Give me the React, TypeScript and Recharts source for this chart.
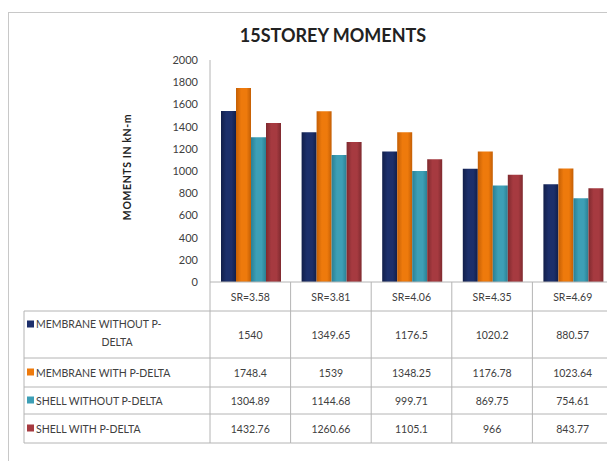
import React from "react";
import { BarChart, Bar, XAxis, YAxis } from "recharts";

// slenderness ratio categories
const categories = ["SR=3.58", "SR=3.81", "SR=4.06", "SR=4.35", "SR=4.69"];

const membraneWithout = [1540, 1349.65, 1176.5, 1020.2, 880.57];
const membraneWith = [1748.4, 1539, 1348.25, 1176.78, 1023.64];
const shellWithout = [1304.89, 1144.68, 999.71, 869.75, 754.61];
const shellWith = [1432.76, 1260.66, 1105.1, 966, 843.77];

const seriesNames = [
  "MEMBRANE WITHOUT P-DELTA",
  "MEMBRANE WITH P-DELTA",
  "SHELL WITHOUT P-DELTA",
  "SHELL WITH P-DELTA",
];
const yTicks = [0, 200, 400, 600, 800, 1000, 1200, 1400, 1600, 1800, 2000];

const colors = ["#1c2f6b", "#ee7a0c", "#3d9fb6", "#a63a40"];
const edgeColors = ["#121f4a", "#c45f05", "#2b7f93", "#7f2a2f"];
const keys = ["mw", "mp", "sw", "sp"];
const seriesValues = [membraneWithout, membraneWith, shellWithout, shellWith];

const data = categories.map((c, i) => ({
  name: c,
  mw: membraneWithout[i],
  mp: membraneWith[i],
  sw: shellWithout[i],
  sp: shellWith[i],
}));

const FONT = "Lato, 'Open Sans', sans-serif";
const TEXT = "#404040";
const LINE = "#b4b4b4";

const CHART_W = 640;
const PLOT_LEFT = 210;
const PLOT_RIGHT = 613;
const BAND = (PLOT_RIGHT - PLOT_LEFT) / categories.length;
const AXIS_Y = 282;
// table row boundaries below the axis
const ROWS = [282, 311, 358, 387, 414, 443];
const TABLE_LEFT = 24;

const TableTick = (props: any) => {
  const { x, payload, index } = props;
  const x0 = x - BAND / 2;
  const x1 = x + BAND / 2;
  const bottom = ROWS[ROWS.length - 1];
  return (
    <g>
      <line x1={x1} y1={AXIS_Y} x2={x1} y2={bottom} stroke={LINE} />
      {index === 0 && <line x1={x0} y1={AXIS_Y} x2={x0} y2={bottom} stroke={LINE} />}
      {ROWS.slice(1).map((ry) => (
        <line key={ry} x1={x0} y1={ry} x2={x1} y2={ry} stroke={LINE} />
      ))}
      <text x={x} y={(ROWS[0] + ROWS[1]) / 2 + 4} textAnchor="middle" fontSize={10.5} fill={TEXT} fontFamily={FONT}>
        {payload.value}
      </text>
      {seriesValues.map((vals, r) => (
        <text
          key={r}
          x={x}
          y={(ROWS[r + 1] + ROWS[r + 2]) / 2 + 4}
          textAnchor="middle"
          fontSize={10.5}
          fill={TEXT}
          fontFamily={FONT}
        >
          {String(vals[index])}
        </text>
      ))}
      {index === 0 && (
        <g>
          <line x1={TABLE_LEFT} y1={ROWS[1]} x2={TABLE_LEFT} y2={bottom} stroke={LINE} />
          {ROWS.slice(1).map((ry) => (
            <line key={ry} x1={TABLE_LEFT} y1={ry} x2={x0} y2={ry} stroke={LINE} />
          ))}
          {seriesNames.map((name, r) => {
            const cy = (ROWS[r + 1] + ROWS[r + 2]) / 2;
            if (r === 0) {
              return (
                <g key={r}>
                  <rect x={TABLE_LEFT + 3} y={cy - 14} width={7} height={7} fill={colors[r]} />
                  <text x={TABLE_LEFT + 12} y={cy - 7} fontSize={10.5} fill={TEXT} fontFamily={FONT}>
                    MEMBRANE WITHOUT P-
                  </text>
                  <text x={(TABLE_LEFT + x0) / 2} y={cy + 11} textAnchor="middle" fontSize={10.5} fill={TEXT} fontFamily={FONT}>
                    DELTA
                  </text>
                </g>
              );
            }
            return (
              <g key={r}>
                <rect x={TABLE_LEFT + 3} y={cy - 4} width={7} height={7} fill={colors[r]} />
                <text x={TABLE_LEFT + 12} y={cy + 4} fontSize={10.5} fill={TEXT} fontFamily={FONT}>
                  {name}
                </text>
              </g>
            );
          })}
        </g>
      )}
    </g>
  );
};

export default function App() {
  return (
    <div
      style={{
        position: "absolute",
        left: 0,
        top: 0,
        width: 607,
        height: 461,
        overflow: "hidden",
        background: "#fff",
      }}
    >
      <div
        style={{
          position: "absolute",
          left: 8,
          top: 12,
          width: 620,
          height: 460,
          border: "1px solid #c8c8c8",
        }}
      />
      <div
        style={{
          position: "absolute",
          left: 0,
          width: 666,
          top: 24,
          textAlign: "center",
          fontFamily: FONT,
          fontWeight: 700,
          fontSize: 18,
          color: "#222",
        }}
      >
        15STOREY MOMENTS
      </div>
      <div style={{ position: "absolute", left: 0, top: 0 }}>
        <BarChart
          width={CHART_W}
          height={461}
          data={data}
          margin={{ top: 60, right: CHART_W - PLOT_RIGHT, left: 0, bottom: 461 - ROWS[5] }}
          barCategoryGap={11}
          barGap={0}
        >
          <defs>
            {colors.map((c, i) => (
              <linearGradient key={i} id={`bar${i}`} x1="0" y1="0" x2="1" y2="0">
                <stop offset="0%" stopColor={edgeColors[i]} />
                <stop offset="35%" stopColor={colors[i]} />
                <stop offset="70%" stopColor={colors[i]} />
                <stop offset="100%" stopColor={edgeColors[i]} />
              </linearGradient>
            ))}
          </defs>
          <XAxis
            dataKey="name"
            height={ROWS[5] - AXIS_Y}
            axisLine={{ stroke: LINE }}
            tickLine={false}
            tick={<TableTick />}
            interval={0}
          />
          <YAxis
            width={PLOT_LEFT}
            domain={[0, 2000]}
            ticks={yTicks}
            axisLine={{ stroke: LINE }}
            tickLine={false}
            tick={{ fontSize: 11, fill: TEXT, fontFamily: FONT }}
            tickMargin={6}
            label={{
              value: "MOMENTS  IN kN-m",
              angle: -90,
              position: "insideLeft",
              offset: 127,
              dy: -4,
              style: {
                fontSize: 10.5,
                fontWeight: 700,
                fill: "#222",
                fontFamily: FONT,
                textAnchor: "middle",
                letterSpacing: 0.6,
              },
            }}
          />
          {keys.map((k, i) => (
            <Bar key={k} dataKey={k} fill={`url(#bar${i})`} isAnimationActive={false} />
          ))}
        </BarChart>
      </div>
    </div>
  );
}
